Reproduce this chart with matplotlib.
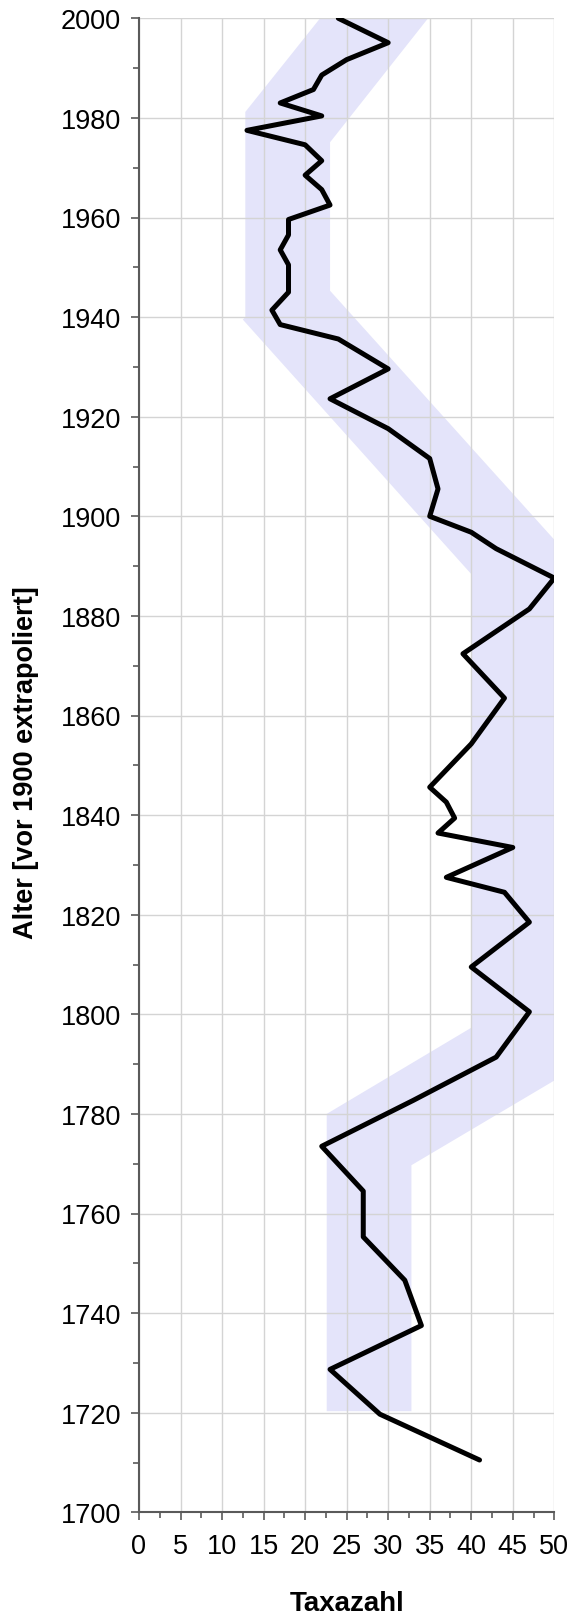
import matplotlib
matplotlib.use("Agg")
import matplotlib.pyplot as plt
from matplotlib.ticker import MultipleLocator

plt.rcParams['font.family'] = ['Liberation Sans', 'DejaVu Sans']

# Taxa count profile
years = [2000, 1995.1, 1991.7, 1988.6, 1985.7, 1983.0, 1980.4, 1977.5, 1974.6,
         1971.4, 1968.5, 1965.6, 1962.5, 1959.6, 1956.5, 1953.5, 1950.5, 1945.0,
         1941.4, 1938.5, 1935.6, 1929.6, 1923.6, 1917.6, 1911.6, 1905.5, 1900.0,
         1896.8, 1893.5, 1887.6, 1881.4, 1872.4, 1863.5, 1854.3, 1845.6, 1842.6,
         1839.4, 1836.4, 1833.5, 1827.5, 1824.5, 1818.5, 1809.5, 1800.5, 1791.4,
         1782.7, 1773.5, 1764.5, 1755.3, 1746.6, 1737.5, 1728.7, 1719.7, 1710.5]
taxa = [24, 30, 25, 22, 21, 17, 22, 13, 20,
        22, 20, 22, 23, 18, 18, 17, 18, 18,
        16, 17, 24, 30, 23, 30, 35, 36, 35,
        40, 43, 50, 47, 39, 44, 40, 35, 37,
        38, 36, 45, 37, 44, 47, 40, 47, 43,
        33, 22, 27, 27, 32, 34, 23, 29, 41]

# Shaded band (range envelope)
band_left_x = [21.8, 12.8, 12.8, 12.5, 40.0, 40.0, 22.6, 22.6]
band_left_y = [2000, 1981.2, 1940.0, 1939.5, 1888.4, 1797.3, 1780.0, 1720.3]
band_right_x = [32.8, 32.8, 50.0, 50.0, 23.0, 23.0, 34.8]
band_right_y = [1720.3, 1769.7, 1786.7, 1895.3, 1945.3, 1975.1, 2000]

W, H = 571, 1615
fig = plt.figure(figsize=(W / 100, H / 100), dpi=100)
ax = fig.add_axes([139 / W, 1 - 1513.3 / H, (554.3 - 139) / W, (1513.3 - 19.3) / H])

ax.fill(band_left_x + band_right_x, band_left_y + band_right_y,
        color='#E4E4FA', lw=0, zorder=1)
ax.plot(taxa, years, color='black', lw=3.6, solid_joinstyle='round',
        solid_capstyle='round', zorder=3)

ax.set_xlim(0, 50)
ax.set_ylim(1700, 2000)
ax.xaxis.set_major_locator(MultipleLocator(5))
ax.xaxis.set_minor_locator(MultipleLocator(2.5))
ax.yaxis.set_major_locator(MultipleLocator(20))
ax.yaxis.set_minor_locator(MultipleLocator(10))

ax.grid(True, which='major', color='#D4D4D4', lw=1.0, zorder=2)
ax.set_axisbelow(False)
for ln in ax.get_xgridlines() + ax.get_ygridlines():
    ln.set_zorder(2)

for s in ['top', 'right']:
    ax.spines[s].set_visible(False)
for s in ['left', 'bottom']:
    ax.spines[s].set_color('#5A5A5A')
    ax.spines[s].set_linewidth(1.5)
    ax.spines[s].set_zorder(4)

ax.tick_params(axis='both', which='major', length=6, width=1.2, color='#5A5A5A',
               labelsize=19.5, direction='out')
ax.tick_params(axis='both', which='minor', length=4, width=1.2, color='#5A5A5A',
               direction='out')
ax.tick_params(axis='y', which='major', pad=7)
ax.tick_params(axis='x', which='major', pad=9)

fig.text(347 / W, 1 - 1604 / H, 'Taxazahl', ha='center', va='center',
         fontsize=20, fontweight='bold')
fig.text(26 / W, 1 - 763 / H, 'Alter [vor 1900 extrapoliert]', ha='center',
         va='center', rotation=90, fontsize=19.5, fontweight='bold')

fig.savefig('out.png', dpi=100)
